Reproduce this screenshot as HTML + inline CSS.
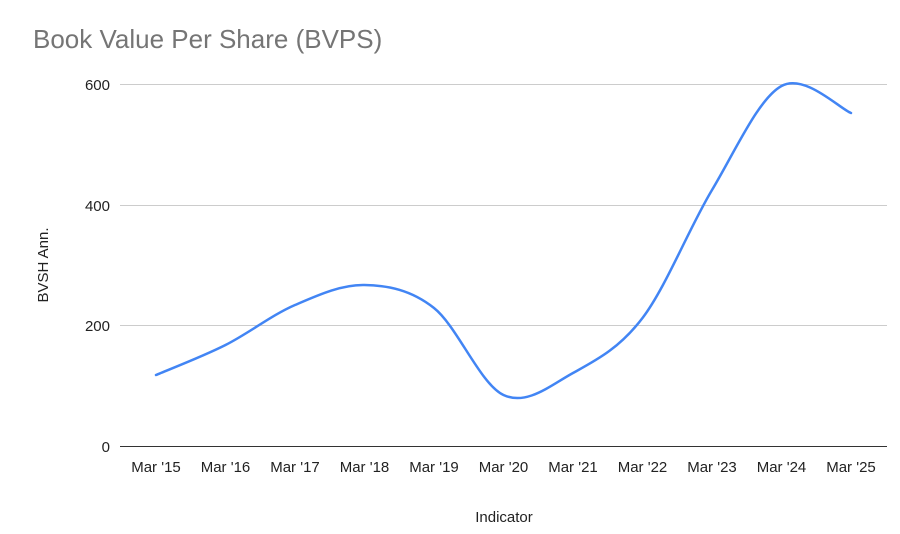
<!DOCTYPE html>
<html><head><meta charset="utf-8"><style>
html,body{margin:0;padding:0;background:#fff;}
svg{display:block;font-family:"Liberation Sans",Arial,sans-serif;}
</style></head><body>
<svg width="900" height="534" viewBox="0 0 900 534">
<rect width="900" height="534" fill="#fff"/>
<text x="33" y="48" font-size="26" fill="#757575">Book Value Per Share (BVPS)</text>
<g stroke="#cccccc" stroke-width="1">
<line x1="120" y1="84.5" x2="887" y2="84.5"/>
<line x1="120" y1="205.5" x2="887" y2="205.5"/>
<line x1="120" y1="325.5" x2="887" y2="325.5"/>
</g>
<line x1="120" y1="446.5" x2="887" y2="446.5" stroke="#333" stroke-width="1"/>
<g font-size="15" fill="#222" text-anchor="end">
<text x="110" y="90">600</text>
<text x="110" y="211">400</text>
<text x="110" y="331">200</text>
<text x="110" y="452">0</text>
</g>
<g font-size="15" fill="#222" text-anchor="middle">
<text x="156" y="472">Mar '15</text>
<text x="225.5" y="472">Mar '16</text>
<text x="295" y="472">Mar '17</text>
<text x="364.5" y="472">Mar '18</text>
<text x="434" y="472">Mar '19</text>
<text x="503.5" y="472">Mar '20</text>
<text x="573" y="472">Mar '21</text>
<text x="642.5" y="472">Mar '22</text>
<text x="712" y="472">Mar '23</text>
<text x="781.5" y="472">Mar '24</text>
<text x="851" y="472">Mar '25</text>
</g>
<text x="504" y="522" font-size="15" fill="#222" text-anchor="middle">Indicator</text>
<text transform="translate(48,265) rotate(-90)" font-size="15" fill="#222" text-anchor="middle">BVSH Ann.</text>
<path fill="none" stroke="#4285f4" stroke-width="2.5" stroke-linecap="round" d="M156,375 C167.6,370 202.3,356.7 225.5,345 C248.7,333.3 271.8,315 295,305 C318.2,295 341.3,284.5 364.5,285 C387.7,285.5 410.8,289.7 434,308 C457.2,326.3 480.3,384.2 503.5,395 C526.7,405.8 549.8,385.8 573,373 C596.2,360.2 619.3,348.5 642.5,318 C665.7,287.5 688.8,228.7 712,190 C735.2,151.3 758.3,98.8 781.5,86 C804.7,73.2 839.4,108.5 851,113"/>
</svg>
</body></html>
